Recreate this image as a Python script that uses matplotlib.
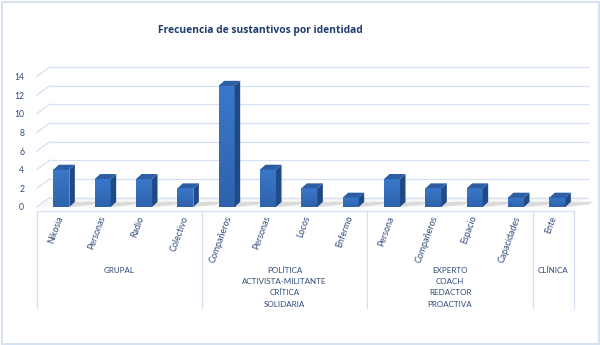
import numpy as np
import matplotlib
matplotlib.use("Agg")
import matplotlib.pyplot as plt
from matplotlib.patches import Polygon, Rectangle
from matplotlib.transforms import blended_transform_factory

# datos
categorias = ["Nikosia", "Personas", "Radio", "Colectivo",
              "Compañeros", "Personas", "Locos", "Enfermo",
              "Persona", "Compañeros", "Espacio", "Capacidades",
              "Ente"]
valores = [4, 3, 3, 2, 13, 4, 2, 1, 3, 2, 2, 1, 1]
grupos = ["GRUPAL",
          "POLÍTICA\nACTIVISTA-MILITANTE\nCRÍTICA\nSOLIDARIA",
          "EXPERTO\nCOACH\nREDACTOR\nPROACTIVA",
          "CLÍNICA"]
tam_grupos = [4, 4, 4, 1]
yticks = [0, 2, 4, 6, 8, 10, 12, 14]

plt.rcParams['font.family'] = ['Lato', 'DejaVu Sans']
texto = '#2E4B7A'

W, H = 600, 345
fig = plt.figure(figsize=(6, 3.45), dpi=100)

# zona de trazado en pixeles
x0p, x1p = 36.7, 574.0
y0p, y14p = 207.0, 76.5
ax = fig.add_axes([x0p / W, (H - y0p) / H, (x1p - x0p) / W, (y0p - y14p) / H])
n = len(categorias)
for s in ax.spines.values():
    s.set_visible(False)

pxx = (x1p - x0p) / n          # pixeles por categoria
pxy = (y0p - y14p) / 14.0      # pixeles por unidad

# pared del fondo: rejilla desplazada
gdx, gdy = 13 / pxx, 9.5 / pxy
for v in yticks:
    ax.plot([-0.5, -0.5 + gdx], [v, v + gdy], color='#D5E1F2', lw=0.9, clip_on=False)
    ax.plot([-0.5 + gdx, (588 - x0p) / pxx - 0.5], [v + gdy, v + gdy],
            color='#D5E1F2', lw=0.9, clip_on=False)

# suelo
ax.add_patch(Polygon([[-0.5, 0], [n - 0.5, 0], [n - 0.5 + gdx, gdy], [-0.5 + gdx, gdy]],
                     closed=True, facecolor='#F7F7F7', edgecolor='none', clip_on=False))

# barras 3D
x = np.arange(n)
bw = 16 / pxx
desp = 4 / pxx
ddx, ddy = 5.5 / pxx, 5 / pxy
cmap_frente = matplotlib.colors.LinearSegmentedColormap.from_list('b', ['#2E62AC', '#3A78C9'])
grad = np.linspace(1, 0, 50).reshape(-1, 1)
for xi, v in zip(x, valores):
    l = xi + desp - bw / 2
    r = l + bw
    # sombra en el suelo
    ax.add_patch(Polygon([[r, 0], [r + 0.55, 0.25], [r + 0.55 + ddx, 0.25 + ddy * 0.6], [r + ddx, ddy]],
                         closed=True, facecolor='#C8C8C8', edgecolor='none', alpha=0.6, clip_on=False))
    # cara frontal con degradado vertical
    ax.imshow(grad, extent=[l, r, 0, v], aspect='auto', cmap=cmap_frente,
              clip_on=False, zorder=3, interpolation='bilinear')
    # lado
    ax.add_patch(Polygon([[r, 0], [r + ddx, ddy], [r + ddx, v + ddy], [r, v]],
                         closed=True, facecolor='#1F4A86', edgecolor='none', zorder=3, clip_on=False))
    # tapa
    ax.add_patch(Polygon([[l, v], [r, v], [r + ddx, v + ddy], [l + ddx, v + ddy]],
                         closed=True, facecolor='#2D5EA3', edgecolor='none', zorder=3, clip_on=False))

ax.set_xlim(-0.5, n - 0.5)
ax.set_ylim(0, 14)

# ejes
ax.set_yticks(yticks)
ax.tick_params(axis='y', length=0, pad=9, labelsize=6.2, labelcolor=texto)
ax.set_xticks(x - 0.05)
ax.set_xticklabels(categorias, rotation=70, fontsize=6.4, color=texto)
ax.tick_params(axis='x', length=0, pad=5.5)

# tabla de categorias
tr = blended_transform_factory(ax.transData, fig.transFigure)
ytop = (H - 210.7) / H
ybot = (H - 308) / H
ax.plot([-0.5, n - 0.5], [ytop, ytop], transform=tr, color='#D5E1F2', lw=0.9, clip_on=False)
limites = np.concatenate([[0], np.cumsum(tam_grupos)]) - 0.5
for b in limites:
    ax.plot([b, b], [ytop, ybot], transform=tr, color='#D5E1F2', lw=0.9, clip_on=False)
for i, g in enumerate(grupos):
    xc = (limites[i] + limites[i + 1]) / 2
    ax.text(xc, (H - 267) / H, g, transform=tr, ha='center', va='top',
            fontsize=5.8, color=texto, linespacing=1.7)

# titulo
fig.text(260 / W, (H - 30) / H, "Frecuencia de sustantivos por identidad",
         ha='center', va='center', fontsize=7.4, fontweight='bold', color='#1F3B6E',
         family=['Open Sans', 'DejaVu Sans'])

# borde del grafico
fig.patches.append(Rectangle((1.5 / W, 1.5 / H), (W - 3) / W, (H - 3) / H, transform=fig.transFigure,
                             facecolor='none', edgecolor='#D6E2F0', lw=1.5))

fig.savefig('out.png', dpi=100)
